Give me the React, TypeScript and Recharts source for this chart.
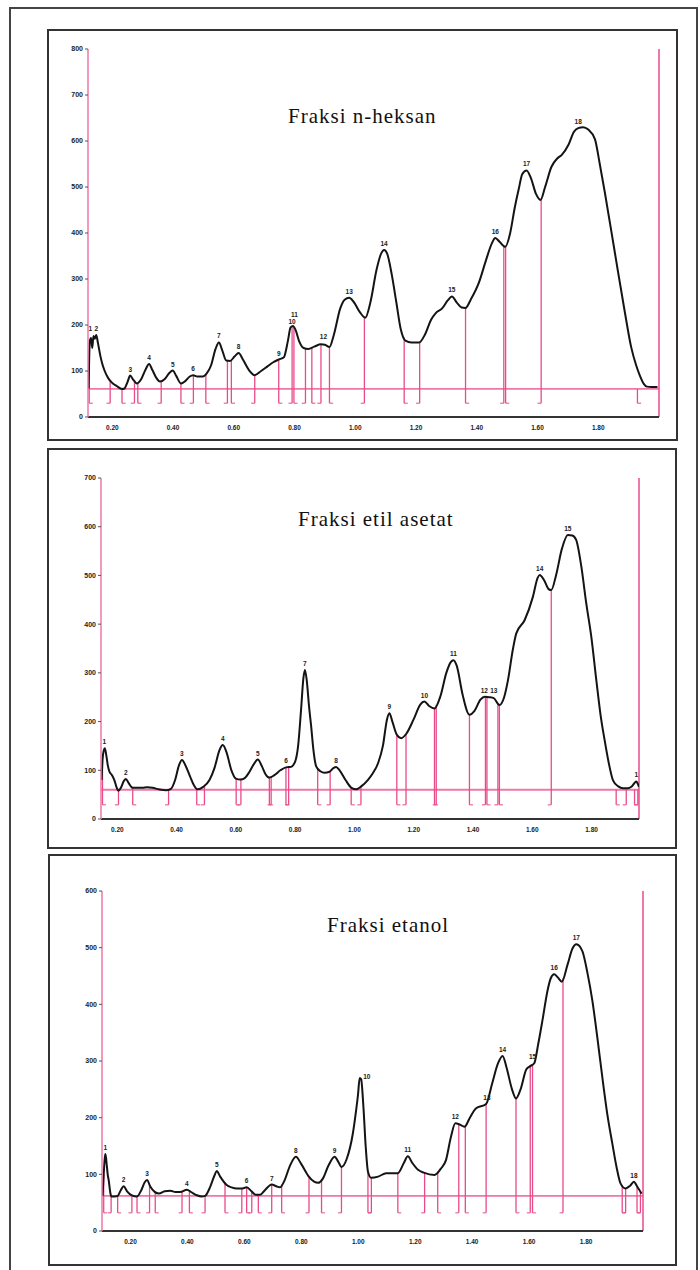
import React from 'react';
import { ComposedChart, Line, XAxis, YAxis, ReferenceLine, Scatter } from 'recharts';

const PINK = '#e94b8a';
const AXIS_PINK = '#ee78a8';
const CURVE = '#141414';

// ---------- Panel 1: Fraksi n-heksan ----------
const hexX = [0.122,0.126,0.130,0.134,0.138,0.142,0.147,0.153,0.160,0.166,0.175,0.187,0.200,0.215,0.232,0.240,0.250,0.259,0.268,0.281,0.295,0.310,0.321,0.332,0.345,0.357,0.372,0.387,0.399,0.410,0.426,0.440,0.455,0.466,0.480,0.498,0.512,0.525,0.540,0.551,0.562,0.575,0.588,0.603,0.616,0.630,0.650,0.669,0.690,0.711,0.730,0.748,0.765,0.778,0.787,0.795,0.803,0.815,0.830,0.845,0.865,0.887,0.900,0.915,0.930,0.950,0.965,0.980,0.995,1.015,1.033,1.050,1.070,1.085,1.095,1.105,1.120,1.135,1.150,1.165,1.185,1.210,1.230,1.250,1.265,1.286,1.305,1.318,1.335,1.350,1.363,1.380,1.407,1.430,1.450,1.461,1.475,1.494,1.510,1.525,1.538,1.550,1.564,1.578,1.595,1.610,1.625,1.646,1.665,1.680,1.702,1.720,1.734,1.750,1.767,1.789,1.805,1.822,1.855,1.888,1.908,1.925,1.937,1.950,1.960,1.975,1.995];
const hexY = [62,165,172,150,176,170,178,160,135,118,100,84,74,67,61,62,76,90,82,73,82,104,115,102,85,77,82,95,101,90,73,78,88,91,88,88,96,112,148,162,145,123,122,132,139,125,102,91,100,110,119,125,130,165,195,198,190,165,150,148,153,158,157,152,180,235,255,259,250,228,216,250,320,355,363,355,310,250,190,166,162,162,180,212,226,236,254,262,248,238,237,255,292,340,378,389,381,370,400,455,495,528,536,520,485,472,500,544,562,570,592,620,628,630,625,604,550,487,356,226,153,112,90,72,66,65,65];
const hexDrops = [0.124,0.193,0.232,0.273,0.284,0.361,0.426,0.467,0.508,0.579,0.592,0.669,0.748,0.792,0.798,0.836,0.857,0.887,0.915,1.030,1.161,1.212,1.363,1.489,1.495,1.612];
const hexShortDrops = [1.929];
const hexPeakX = [0.128,0.147,0.259,0.321,0.399,0.466,0.551,0.616,0.748,0.792,0.800,0.895,0.980,1.095,1.318,1.461,1.564,1.734];
const hexPeakY = [178,178,90,115,101,91,162,139,125,194,208,160,259,363,262,389,536,628];
const hexPeakLabels = ['1','2','3','4','5','6','7','8','9','10','11','12','13','14','15','16','17','18'];
const hexYTicks = [0,100,200,300,400,500,600,700,800];

// ---------- Panel 2: Fraksi etil asetat ----------
const etaX = [0.147,0.150,0.154,0.158,0.163,0.168,0.173,0.182,0.190,0.197,0.204,0.212,0.222,0.229,0.238,0.252,0.270,0.285,0.300,0.319,0.340,0.364,0.381,0.395,0.408,0.418,0.430,0.445,0.458,0.471,0.490,0.511,0.528,0.545,0.556,0.568,0.585,0.600,0.615,0.630,0.645,0.660,0.674,0.688,0.700,0.713,0.730,0.750,0.769,0.786,0.800,0.810,0.820,0.828,0.833,0.839,0.847,0.854,0.862,0.871,0.885,0.899,0.916,0.930,0.938,0.950,0.970,0.990,1.006,1.025,1.045,1.062,1.080,1.096,1.110,1.118,1.128,1.143,1.158,1.175,1.200,1.222,1.236,1.252,1.270,1.290,1.310,1.325,1.334,1.345,1.365,1.388,1.405,1.425,1.440,1.455,1.470,1.489,1.505,1.518,1.535,1.546,1.574,1.602,1.618,1.625,1.640,1.655,1.664,1.680,1.700,1.720,1.735,1.748,1.765,1.782,1.800,1.816,1.830,1.844,1.858,1.872,1.890,1.906,1.922,1.934,1.945,1.951,1.956,1.960];
const etaY = [80,120,140,145,130,110,98,90,80,66,58,64,78,82,74,64,64,64,65,64,61,59,62,80,110,121,110,88,70,61,66,80,105,142,152,138,100,83,81,84,96,112,122,108,92,85,90,100,106,107,118,150,225,290,306,285,230,190,140,108,98,95,97,105,107,100,80,64,61,68,80,94,115,150,205,217,200,173,166,175,205,235,241,232,227,252,300,322,326,315,255,214,222,245,251,250,248,234,250,285,350,381,408,456,495,501,490,472,470,500,555,583,582,573,520,443,370,285,215,162,115,80,67,63,63,66,74,77,72,66];
const etaDrops = [0.150,0.204,0.252,0.373,0.468,0.494,0.601,0.617,0.713,0.719,0.769,0.778,0.876,0.918,0.989,1.022,1.143,1.174,1.270,1.276,1.388,1.442,1.447,1.484,1.489,1.664];
const etaShortDrops = [1.883,1.917,1.945,1.956];
const etaPeakX = [0.156,0.229,0.418,0.556,0.674,0.769,0.833,0.938,1.118,1.236,1.334,1.438,1.470,1.625,1.720,1.951];
const etaPeakY = [145,82,121,152,122,106,306,107,217,241,326,251,251,501,583,77];
const etaPeakLabels = ['1','2','3','4','5','6','7','8','9','10','11','12','13','14','15','1'];
const etaYTicks = [0,100,200,300,400,500,600,700];

// ---------- Panel 3: Fraksi etanol ----------
const etoX = [0.102,0.106,0.110,0.112,0.116,0.120,0.124,0.129,0.133,0.145,0.155,0.166,0.176,0.188,0.205,0.223,0.238,0.250,0.258,0.270,0.285,0.300,0.320,0.340,0.358,0.375,0.398,0.415,0.433,0.450,0.462,0.480,0.495,0.503,0.515,0.538,0.555,0.573,0.590,0.608,0.625,0.640,0.655,0.672,0.696,0.712,0.725,0.740,0.760,0.781,0.800,0.825,0.845,0.859,0.875,0.895,0.917,0.930,0.941,0.960,0.981,0.993,0.999,1.005,1.010,1.018,1.026,1.034,1.045,1.070,1.098,1.139,1.160,1.174,1.190,1.210,1.230,1.268,1.290,1.308,1.325,1.341,1.356,1.373,1.392,1.413,1.449,1.470,1.490,1.507,1.520,1.540,1.554,1.570,1.590,1.604,1.618,1.632,1.647,1.665,1.676,1.688,1.700,1.715,1.735,1.752,1.766,1.787,1.805,1.822,1.840,1.857,1.875,1.892,1.907,1.921,1.939,1.955,1.968,1.980,1.990,1.995];
const etoY = [62,100,130,136,120,100,88,68,61,61,62,72,79,70,63,61,72,86,90,78,69,66,70,71,69,69,73,68,63,61,62,78,98,106,96,81,77,75,75,77,70,64,64,72,82,79,77,88,115,131,118,97,87,85,92,115,131,122,113,128,172,215,240,270,268,220,150,105,94,96,102,102,120,132,120,108,103,99,110,125,165,190,188,184,200,216,224,260,295,309,290,250,234,250,285,291,296,330,372,425,446,453,448,440,470,498,506,494,455,407,340,272,205,155,113,84,75,80,87,78,70,66];
const etoDrops = [0.106,0.132,0.155,0.205,0.223,0.267,0.287,0.381,0.407,0.462,0.532,0.591,0.608,0.626,0.649,0.696,0.731,0.827,0.871,0.941,1.034,1.046,1.139,1.233,1.279,1.353,1.376,1.449,1.554,1.604,1.612,1.719,1.927,1.939,1.979,1.991];
const etoShortDrops: number[] = [];
const etoPeakX = [0.112,0.176,0.258,0.398,0.503,0.608,0.696,0.781,0.917,1.030,1.174,1.341,1.452,1.507,1.612,1.688,1.766,1.968];
const etoPeakY = [136,79,90,73,106,77,82,131,131,262,132,190,224,309,296,453,506,87];
const etoPeakLabels = ['1','2','3','4','5','6','7','8','9','10','11','12','13','14','15','16','17','18'];
const etoYTicks = [0,100,200,300,400,500,600];

const xTicks = [0.2,0.4,0.6,0.8,1.0,1.2,1.4,1.6,1.8];

function zip(xs: number[], ys: number[]) {
  return xs.map((x, i) => ({ x, y: ys[i] }));
}

function curveAt(xs: number[], ys: number[], x: number) {
  if (x <= xs[0]) return ys[0];
  for (let i = 1; i < xs.length; i++) {
    if (x <= xs[i]) {
      const t = (x - xs[i - 1]) / (xs[i] - xs[i - 1]);
      return ys[i - 1] + t * (ys[i] - ys[i - 1]);
    }
  }
  return ys[ys.length - 1];
}

const PeakLabel = (props: any) => {
  const { cx, cy, payload } = props;
  if (cx == null || cy == null) return null;
  return (
    <text x={cx} y={cy - 4} textAnchor="middle" fontSize={6.5} fontWeight="bold"
      fontFamily="'Liberation Sans', Arial, sans-serif" fill="#222">{payload.t}</text>
  );
};

type PanelProps = {
  xs: number[]; ys: number[]; drops: number[]; shortDrops: number[];
  px: number[]; py: number[]; pl: string[];
  xDomain: [number, number]; yMax: number; yTicks: number[];
  baseline: number; dropBottom: number; footW: number;
  left: number; top: number; width: number; height: number;
  margin: { top: number; right: number; left: number; bottom: number };
};

function Panel(p: PanelProps) {
  const data = zip(p.xs, p.ys);
  const labels = p.px.map((x, i) => ({ x, y: p.py[i], t: p.pl[i] }));
  const allDrops = [
    ...p.drops.map((d) => ({ x: d, top: curveAt(p.xs, p.ys, d) })),
    ...p.shortDrops.map((d) => ({ x: d, top: p.baseline })),
  ];
  return (
    <div style={{ position: 'absolute', left: p.left, top: p.top }}>
      <ComposedChart width={p.width} height={p.height} margin={p.margin}>
        <XAxis dataKey="x" type="number" domain={p.xDomain} ticks={xTicks} allowDataOverflow
          height={16} tickLine={false} tickMargin={2}
          tickFormatter={(v: number) => v.toFixed(2)}
          axisLine={{ stroke: '#333', strokeWidth: 2 }}
          tick={{ fontSize: 6.5, fontWeight: 'bold', fill: '#222', fontFamily: "'Liberation Sans', Arial, sans-serif" }} />
        <YAxis type="number" domain={[0, p.yMax]} ticks={p.yTicks} allowDataOverflow width={36}
          tickSize={3} tickMargin={2}
          tickLine={{ stroke: '#555' }}
          axisLine={{ stroke: AXIS_PINK, strokeWidth: 1.5 }}
          tick={{ fontSize: 7, fontWeight: 'bold', fill: '#222', fontFamily: "'Liberation Sans', Arial, sans-serif" }} />
        <ReferenceLine y={p.baseline} stroke={AXIS_PINK} strokeWidth={1.8} />
        <ReferenceLine x={p.xDomain[1]} stroke={PINK} strokeWidth={1.5} />
        {allDrops.map((d, i) => (
          <ReferenceLine key={'d' + i} segment={[{ x: d.x, y: p.dropBottom }, { x: d.x, y: d.top }]}
            stroke={PINK} strokeWidth={1.3} />
        ))}
        {allDrops.map((d, i) => (
          <ReferenceLine key={'f' + i}
            segment={[{ x: d.x, y: p.dropBottom }, { x: d.x + (i % 2 === 0 ? p.footW : -p.footW), y: p.dropBottom }]}
            stroke={PINK} strokeWidth={1} />
        ))}
        <Line data={data} dataKey="y" type="monotone" stroke={CURVE} strokeWidth={2}
          dot={false} isAnimationActive={false} />
        <Scatter data={labels} dataKey="y" shape={PeakLabel} isAnimationActive={false} />
      </ComposedChart>
    </div>
  );
}

const titleStyle: React.CSSProperties = {
  position: 'absolute',
  fontFamily: "'Liberation Serif', 'Times New Roman', serif",
  fontSize: 21,
  lineHeight: '21px',
  letterSpacing: '1px',
  color: '#111',
  whiteSpace: 'nowrap',
};

const boxStyle = (left: number, top: number, width: number, height: number): React.CSSProperties => ({
  position: 'absolute', left, top, width, height, boxSizing: 'border-box',
  border: '2px solid #333',
});

export default function App() {
  return (
    <div style={{ position: 'absolute', left: 0, top: 0, width: 700, height: 1270, overflow: 'hidden', background: '#fff' }}>
      <div style={{ ...boxStyle(9, 7, 689, 1280), borderColor: '#444' }} />
      <div style={boxStyle(47, 29, 631, 412)} />
      <div style={boxStyle(47, 448, 630, 401)} />
      <div style={boxStyle(48, 854, 629, 412)} />

      <Panel xs={hexX} ys={hexY} drops={hexDrops} shortDrops={hexShortDrops}
        px={hexPeakX} py={hexPeakY} pl={hexPeakLabels}
        xDomain={[0.12, 2.0]} yMax={800} yTicks={hexYTicks} baseline={61} dropBottom={30} footW={0.012}
        left={48} top={30} width={629} height={410}
        margin={{ top: 19, right: 18, left: 4, bottom: 7 }} />
      <Panel xs={etaX} ys={etaY} drops={etaDrops} shortDrops={etaShortDrops}
        px={etaPeakX} py={etaPeakY} pl={etaPeakLabels}
        xDomain={[0.145, 1.96]} yMax={700} yTicks={etaYTicks} baseline={60} dropBottom={29} footW={0.012}
        left={48} top={449} width={628} height={398}
        margin={{ top: 29, right: 37, left: 17, bottom: 12 }} />
      <Panel xs={etoX} ys={etoY} drops={etoDrops} shortDrops={etoShortDrops}
        px={etoPeakX} py={etoPeakY} pl={etoPeakLabels}
        xDomain={[0.10, 2.0]} yMax={600} yTicks={etoYTicks} baseline={62} dropBottom={32} footW={0.012}
        left={49} top={855} width={627} height={408}
        margin={{ top: 36, right: 33, left: 17, bottom: 16 }} />

      <div style={{ ...titleStyle, left: 288, top: 106 }}>Fraksi n-heksan</div>
      <div style={{ ...titleStyle, left: 298, top: 509 }}>Fraksi etil asetat</div>
      <div style={{ ...titleStyle, left: 327, top: 915 }}>Fraksi etanol</div>
    </div>
  );
}
